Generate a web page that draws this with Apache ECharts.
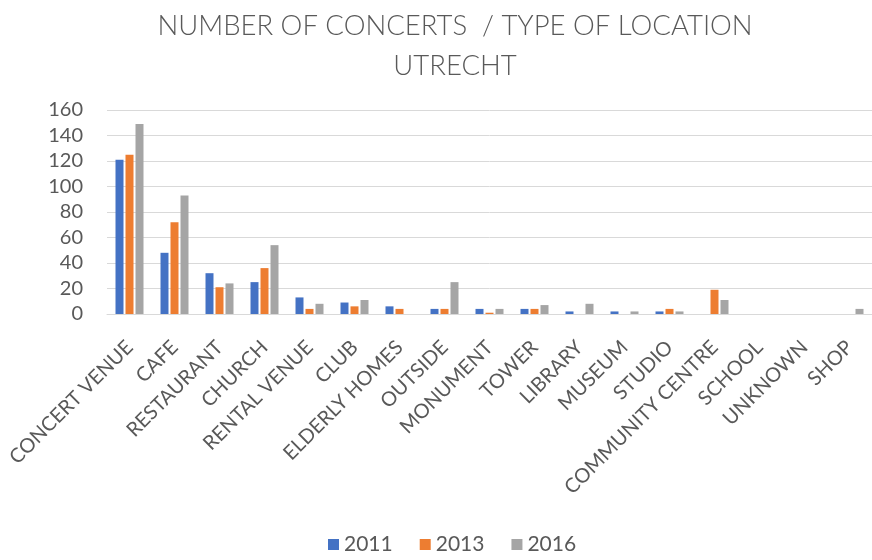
<!DOCTYPE html>
<html>
<head>
<meta charset="utf-8">
<script src="https://cdn.jsdelivr.net/npm/echarts@6/dist/echarts.min.js"></script>
<style>html,body{margin:0;padding:0;background:#fff}#c{width:872px;height:560px}</style>
</head>
<body>
<div id="c"></div>
<script>
var categories = ['CONCERT VENUE','CAFE','RESTAURANT','CHURCH','RENTAL VENUE','CLUB','ELDERLY HOMES','OUTSIDE','MONUMENT','TOWER','LIBRARY','MUSEUM','STUDIO','COMMUNITY CENTRE','SCHOOL','UNKNOWN','SHOP'];
var years = ['2011','2013','2016'];
var values2011 = [121,48,32,25,13,9,6,4,4,4,2,2,2,0,0,0,0];
var values2013 = [125,72,21,36,4,6,4,4,1,4,0,0,4,19,0,0,0];
var values2016 = [149,93,24,54,8,11,0,25,4,7,8,2,2,11,0,0,4];
var yTicks = [0,20,40,60,80,100,120,140,160];

var colors = ['#4472C4','#ED7D31','#A5A5A5'];
var font = 'Lato, "Open Sans", sans-serif';
var chart = echarts.init(document.getElementById('c'));
var seriesData = [values2011, values2013, values2016];
chart.setOption({
  animation: false,
  color: colors,
  title: {
    text: 'NUMBER OF CONCERTS  / TYPE OF LOCATION\nUTRECHT',
    left: 450,
    textAlign: 'center',
    top: 1,
    textStyle: {fontFamily: font, fontWeight: 300, fontSize: 27.5, color: '#595959', lineHeight: 40}
  },
  legend: {
    data: years,
    bottom: 0,
    left: 323,
    itemWidth: 11, itemHeight: 11, itemGap: 27,
    icon: 'rect',
    textStyle: {fontFamily: font, fontSize: 21, color: '#595959'}
  },
  grid: {left: 107, top: 110, width: 768, height: 204, containLabel: false},
  xAxis: {
    type: 'category',
    data: categories,
    axisTick: {show: false},
    axisLine: {lineStyle: {color: '#d9d9d9', width: 1}},
    axisLabel: {rotate: 45, interval: 0, fontFamily: font, fontSize: 20, color: '#595959', margin: 30}
  },
  yAxis: {
    type: 'value',
    min: yTicks[0], max: yTicks[yTicks.length-1], interval: 20,
    axisLine: {show: false}, axisTick: {show: false},
    splitLine: {lineStyle: {color: '#d9d9d9', width: 1}},
    axisLabel: {fontFamily: font, fontSize: 20, color: '#595959', margin: 24}
  },
  series: years.map(function(y, i){
    return {name: y, type: 'bar', data: seriesData[i], barWidth: 8, barGap: '25%',
      itemStyle: {color: colors[i]}};
  })
});
</script>
</body>
</html>
